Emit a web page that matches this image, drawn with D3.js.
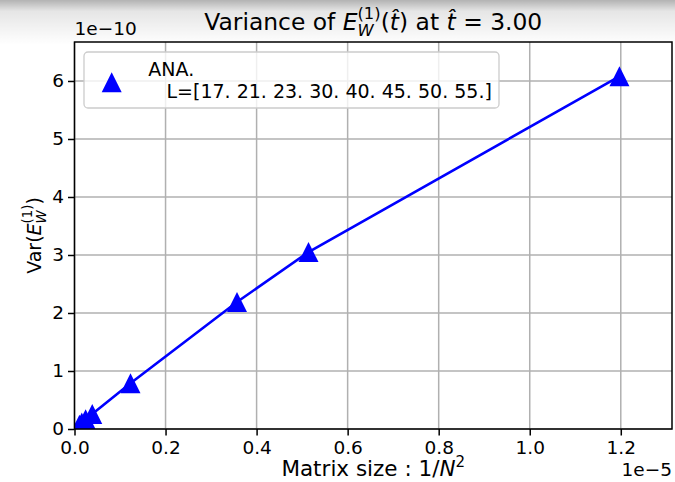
<!DOCTYPE html>
<html>
<head>
<meta charset="utf-8">
<script src="https://cdn.jsdelivr.net/npm/d3@7"></script>
<style>
  html, body { margin: 0; padding: 0; background: #fff; }
  text { font-family: "DejaVu Sans", sans-serif; white-space: pre; fill: #000; }
</style>
</head>
<body>
<div id="chart"></div>
<script>
// data
const L = [17, 21, 23, 30, 40, 45, 50, 55]
const invN2 = [1.197e-5, 0.514e-5, 0.357e-5, 0.123e-5, 0.039e-5, 0.0244e-5, 0.016e-5, 0.0109e-5]
const variance = [6.08e-10, 3.05e-10, 2.19e-10, 0.79e-10, 0.26e-10, 0.17e-10, 0.11e-10, 0.075e-10]
const xTicks = [0, 0.2e-5, 0.4e-5, 0.6e-5, 0.8e-5, 1.0e-5, 1.2e-5]
const yTicks = [0, 1e-10, 2e-10, 3e-10, 4e-10, 5e-10, 6e-10]

const W = 675, H = 482
const pLeft = 74.5, pRight = 672, pTop = 42, pBottom = 429
const fs = 18.5

const svg = d3.select('#chart').append('svg')
    .attr('width', W)
    .attr('height', H)

const x = d3.scaleLinear().domain([0, 1.3125e-5]).range([pLeft, pRight])
const y = d3.scaleLinear().domain([0, 6.672e-10]).range([pBottom, pTop])

// grid
svg.append('g').selectAll('line').data(xTicks).join('line')
    .attr('x1', d => x(d)).attr('x2', d => x(d))
    .attr('y1', pTop).attr('y2', pBottom)
    .style('stroke', '#b0b0b0').style('stroke-width', 1.5)
svg.append('g').selectAll('line').data(yTicks).join('line')
    .attr('x1', pLeft).attr('x2', pRight)
    .attr('y1', d => y(d)).attr('y2', d => y(d))
    .style('stroke', '#b0b0b0').style('stroke-width', 1.5)

// axes
const xAxis = svg.append('g')
    .attr('transform', `translate(0,${pBottom})`)
    .call(d3.axisBottom(x).tickValues(xTicks).tickSize(6.5).tickPadding(5)
        .tickFormat(d => (d / 1e-5).toFixed(1)))
const yAxis = svg.append('g')
    .attr('transform', `translate(${pLeft},0)`)
    .call(d3.axisLeft(y).tickValues(yTicks).tickSize(6.5).tickPadding(4)
        .tickFormat(d => Math.round(d / 1e-10)))
;[xAxis, yAxis].forEach(a => {
    a.select('.domain').remove()
    a.selectAll('line').style('stroke', '#000').style('stroke-width', 1.5)
    a.selectAll('text').style('font-size', fs + 'px').style('font-family', '"DejaVu Sans", sans-serif')
})

// clip for data
svg.append('clipPath').attr('id', 'clip')
    .append('rect').attr('x', pLeft).attr('y', pTop)
    .attr('width', pRight - pLeft).attr('height', pBottom - pTop)

const pts = invN2.map((v, i) => [v, variance[i]])

svg.append('path')
    .datum(pts)
    .attr('clip-path', 'url(#clip)')
    .attr('d', d3.line().x(d => x(d[0])).y(d => y(d[1])))
    .style('fill', 'none')
    .style('stroke', '#0000ff')
    .style('stroke-width', 2.6)

const tri = 'M0,-10L10,10L-10,10Z'
svg.append('g').attr('clip-path', 'url(#clip)')
    .selectAll('path').data(pts).join('path')
    .attr('transform', d => `translate(${x(d[0])},${y(d[1])})`)
    .attr('d', tri)
    .style('fill', '#0000ff')

// spines
svg.append('rect')
    .attr('x', pLeft).attr('y', pTop)
    .attr('width', pRight - pLeft).attr('height', pBottom - pTop)
    .style('fill', 'none').style('stroke', '#000').style('stroke-width', 1.5)

// math-ish text: one <text>, runs as tspans, sub/sup stacked at same x
function mathText(g, runs, size) {
    const txt = g.append('text')
    let cx = 0
    runs.forEach(r => {
        if (r.stack) {
            let w = 0
            r.stack.forEach(s => {
                const t = txt.append('tspan').text(s.t)
                    .attr('x', cx).attr('y', s.dy * size)
                    .style('font-size', (size * 0.7) + 'px')
                    .style('font-style', s.i ? 'italic' : 'normal')
                w = Math.max(w, t.node().getComputedTextLength())
            })
            cx += w
        } else {
            const t = txt.append('tspan').text(r.t)
                .attr('x', cx).attr('y', 0)
                .style('font-size', size + 'px')
                .style('font-style', r.i ? 'italic' : 'normal')
            cx += t.node().getComputedTextLength()
        }
    })
    return cx
}

// title
const title = svg.append('g')
const tw = mathText(title, [
    { t: 'Variance of ' },
    { t: 'E', i: true },
    { stack: [{ t: '(1)', dy: -0.45 }, { t: 'W', i: true, dy: 0.24 }] },
    { t: '(' }, { t: 't\u0302', i: true }, { t: ')' },
    { t: ' at ' }, { t: 't\u0302', i: true }, { t: ' = 3.00' }
], 23.4)
title.attr('transform', `translate(${(pLeft + pRight) / 2 - tw / 2},30)`)

// x label
const xl = svg.append('g')
const xw = mathText(xl, [
    { t: 'Matrix size : 1/' }, { t: 'N', i: true },
    { stack: [{ t: '2', dy: -0.42 }] }
], 21.5)
xl.attr('transform', `translate(${(pLeft + pRight) / 2 - xw / 2},476)`)

// y label
const yl = svg.append('g')
const yw = mathText(yl, [
    { t: 'Var(' }, { t: 'E', i: true },
    { stack: [{ t: '(1)', dy: -0.45 }, { t: 'W', i: true, dy: 0.24 }] },
    { t: ')' }
], 19)
yl.attr('transform', `translate(41,${(pTop + pBottom) / 2 + yw / 2}) rotate(-90)`)

// offset texts
svg.append('text').text('1e\u221210')
    .attr('x', pLeft).attr('y', 35)
    .style('font-size', fs + 'px')
svg.append('text').text('1e\u22125')
    .attr('x', pRight).attr('y', 476)
    .attr('text-anchor', 'end')
    .style('font-size', fs + 'px')

// legend
const leg = svg.append('g')
leg.append('rect')
    .attr('x', 84).attr('y', 52).attr('width', 415).attr('height', 56)
    .attr('rx', 4)
    .style('fill', '#fff').style('fill-opacity', 0.8)
    .style('stroke', '#cccccc').style('stroke-width', 1.3)
leg.append('path')
    .attr('transform', 'translate(111.7,82.3)')
    .attr('d', tri)
    .style('fill', '#0000ff')
leg.append('text').text('ANA.')
    .attr('x', 148.3).attr('y', 76)
    .style('font-size', '19px')
leg.append('text').text('L=[' + L.map(v => v + '.').join(' ') + ']')
    .attr('x', 166.5).attr('y', 97.7)
    .style('font-size', '19px')

// window shadow along the top edge
const grad = svg.append('defs').append('linearGradient')
    .attr('id', 'shade').attr('x1', 0).attr('y1', 0).attr('x2', 0).attr('y2', 1)
grad.append('stop').attr('offset', 0).attr('stop-color', '#000').attr('stop-opacity', 0.3)
grad.append('stop').attr('offset', 0.25).attr('stop-color', '#000').attr('stop-opacity', 0.1)
grad.append('stop').attr('offset', 1).attr('stop-color', '#000').attr('stop-opacity', 0)
svg.append('rect')
    .attr('x', 0).attr('y', 0).attr('width', W).attr('height', 45)
    .style('fill', 'url(#shade)')
    .style('pointer-events', 'none')
</script>
</body>
</html>
